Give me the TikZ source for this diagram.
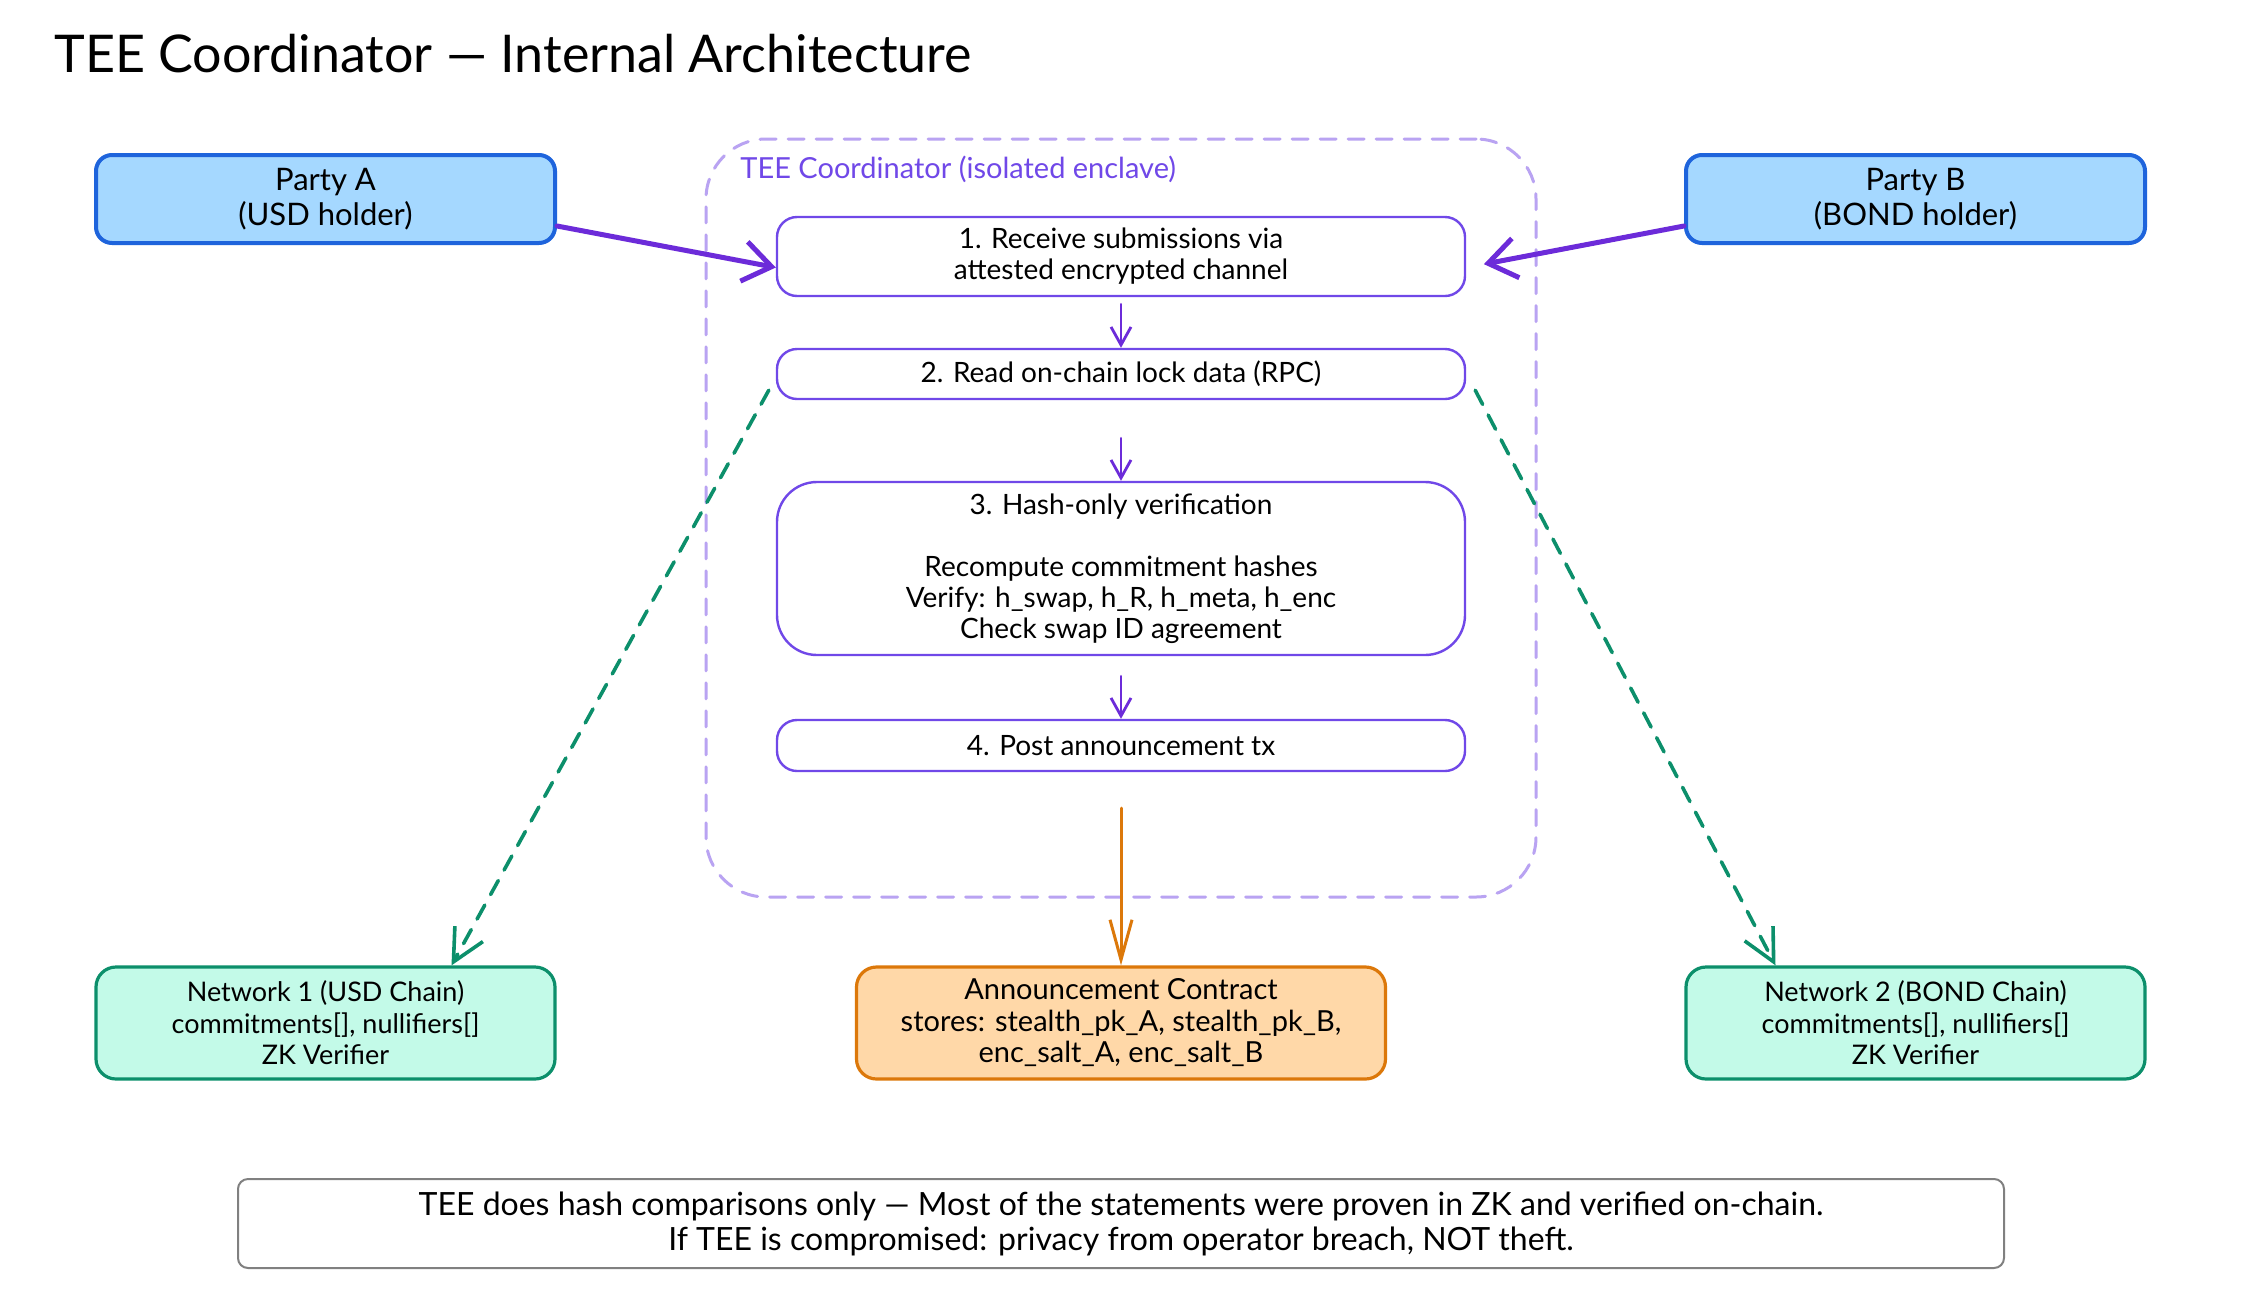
\documentclass[tikz,border=0pt]{standalone}
\usepackage{fontspec}
\setmainfont{Lato}
\usetikzlibrary{positioning, calc}
\usetikzlibrary{arrows.meta}
\definecolor{partyblue}{HTML}{1E64DC}
\definecolor{partyfill}{HTML}{A5D8FF}
\definecolor{flowpurple}{HTML}{6C2BD9}
\definecolor{teedash}{HTML}{B9A3F2}
\definecolor{steppurple}{HTML}{7048E8}
\definecolor{chaingreen}{HTML}{0C8F6B}
\definecolor{chainfill}{HTML}{C3FAE8}
\definecolor{annorange}{HTML}{DC780A}
\definecolor{annfill}{HTML}{FFD8A8}
\definecolor{notegray}{HTML}{808080}

\begin{document}
\begin{tikzpicture}[x=0.5pt, y=-0.5pt, line join=round, line cap=round]
	\def \colleft{325.5}
	\def \colmid{1121}
	\def \colright{1915.5}
	\def \rowtop{199}
	\def \rowbot{1023}
	\tikzstyle{party-node}=[draw=partyblue, fill=partyfill, line width=2pt, rounded corners=8pt, minimum width=229.5pt, minimum height=44pt, align=center, font=\fontsize{15.5}{17.5}\selectfont]
	\tikzstyle{step-node}=[draw=steppurple, fill=white, line width=1.2pt, rounded corners=10pt, minimum width=344pt, inner sep=0pt, align=center, font=\fontsize{14}{15.5}\selectfont]
	\tikzstyle{chain-node}=[draw=chaingreen, fill=chainfill, line width=1.6pt, rounded corners=10pt, minimum width=229.5pt, minimum height=56pt, align=center, font=\fontsize{13.5}{15.75}\selectfont]
	\tikzstyle{ann-node}=[chain-node, draw=annorange, fill=annfill, minimum width=264.5pt, font=\fontsize{14.5}{15.75}\selectfont]
	\tikzstyle{flow-arrow}=[draw=flowpurple, line width=1.4pt, -{Straight Barb[length=9pt,width=10pt]}]
	\tikzstyle{party-arrow}=[draw=flowpurple, line width=2.5pt, -{Straight Barb[length=14pt,width=20pt]}]
	\tikzstyle{chain-arrow}=[draw=chaingreen, line width=1.8pt, dash pattern=on 8pt off 6pt, -{Straight Barb[length=16pt,width=16pt]}]
	\fill[white] (0,0) rectangle (2244,1302);
	\useasboundingbox (0,0) rectangle (2244,1302);
	% title
	\node[anchor=west, inner sep=0pt, font=\fontsize{26}{30}\selectfont] (title) at (54,54) {TEE Coordinator — Internal Architecture};
	% enclave
	\node[draw=teedash, line width=1.5pt, dash pattern=on 8pt off 6pt, rounded corners=30pt, minimum width=415pt, minimum height=379pt] (tee) at (\colmid,518) {};
	\node[anchor=west, inner sep=0pt, text=steppurple, font=\fontsize{14.5}{15}\selectfont] (teelabel) at (740,169) {TEE Coordinator (isolated enclave)};
	% parties
	\node[party-node] (pa) at (\colleft,\rowtop) {Party A\\(USD holder)};
	\node[party-node] (pb) at (\colright,\rowtop) {Party B\\(BOND holder)};
	% steps
	\node[step-node, minimum height=39.5pt] (s1) at (\colmid,256.5) {1. Receive submissions via\\attested encrypted channel};
	\node[step-node, minimum height=25pt] (s2) at (\colmid,374) {2. Read on-chain lock data (RPC)};
	\node[step-node, minimum height=86.5pt, rounded corners=20pt] (s3) at (\colmid,568.5) {3. Hash-only verification\\[15.5pt]Recompute commitment hashes\\Verify: h\_swap, h\_R, h\_meta, h\_enc\\Check swap ID agreement};
	\node[step-node, minimum height=25.5pt] (s4) at (\colmid,745.5) {4. Post announcement tx};
	% chains
	\node[chain-node] (n1) at (\colleft,\rowbot) {Network 1 (USD Chain)\\commitments[], nullifiers[]\\ZK Verifier};
	\node[ann-node] (ann) at (\colmid,\rowbot) {Announcement Contract\\stores: stealth\_pk\_A, stealth\_pk\_B,\\enc\_salt\_A, enc\_salt\_B};
	\node[chain-node] (n2) at (\colright,\rowbot) {Network 2 (BOND Chain)\\commitments[], nullifiers[]\\ZK Verifier};
	% note
	\node[draw=notegray, line width=1pt, rounded corners=5pt, minimum width=883pt, minimum height=44.5pt, align=center, font=\fontsize{16}{17.5}\selectfont] (note) at (\colmid,1223.5) {TEE does hash comparisons only — Most of the statements were proven in ZK and verified on-chain.\\If TEE is compromised: privacy from operator breach, NOT theft.};
	% connectors
	\draw[party-arrow] ([yshift=-13.5pt]pa.east) -- ([yshift=-5.5pt]s1.west);
	\draw[party-arrow, shorten >=9pt] ([yshift=-13.5pt]pb.west) -- ([yshift=-5.5pt]s1.east);
	\draw[flow-arrow, shorten <=3.5pt] (s1.south) -- (s2.north);
	\draw[flow-arrow, shorten <=19pt] (s2.south) -- (s3.north);
	\draw[flow-arrow, shorten <=10pt] (s3.south) -- (s4.north);
	\draw[flow-arrow, draw=annorange, line width=1.5pt, -{Straight Barb[length=20pt,width=11pt]}, shorten <=18pt] (s4.south) -- (ann.north);
	\draw[chain-arrow] ([shift={(-3.5pt,5pt)}]s2.south west) -- ([xshift=63pt]n1.north);
	\draw[chain-arrow] ([shift={(4.5pt,5pt)}]s2.south east) -- ([xshift=-70pt]n2.north);
\end{tikzpicture}
\end{document}
